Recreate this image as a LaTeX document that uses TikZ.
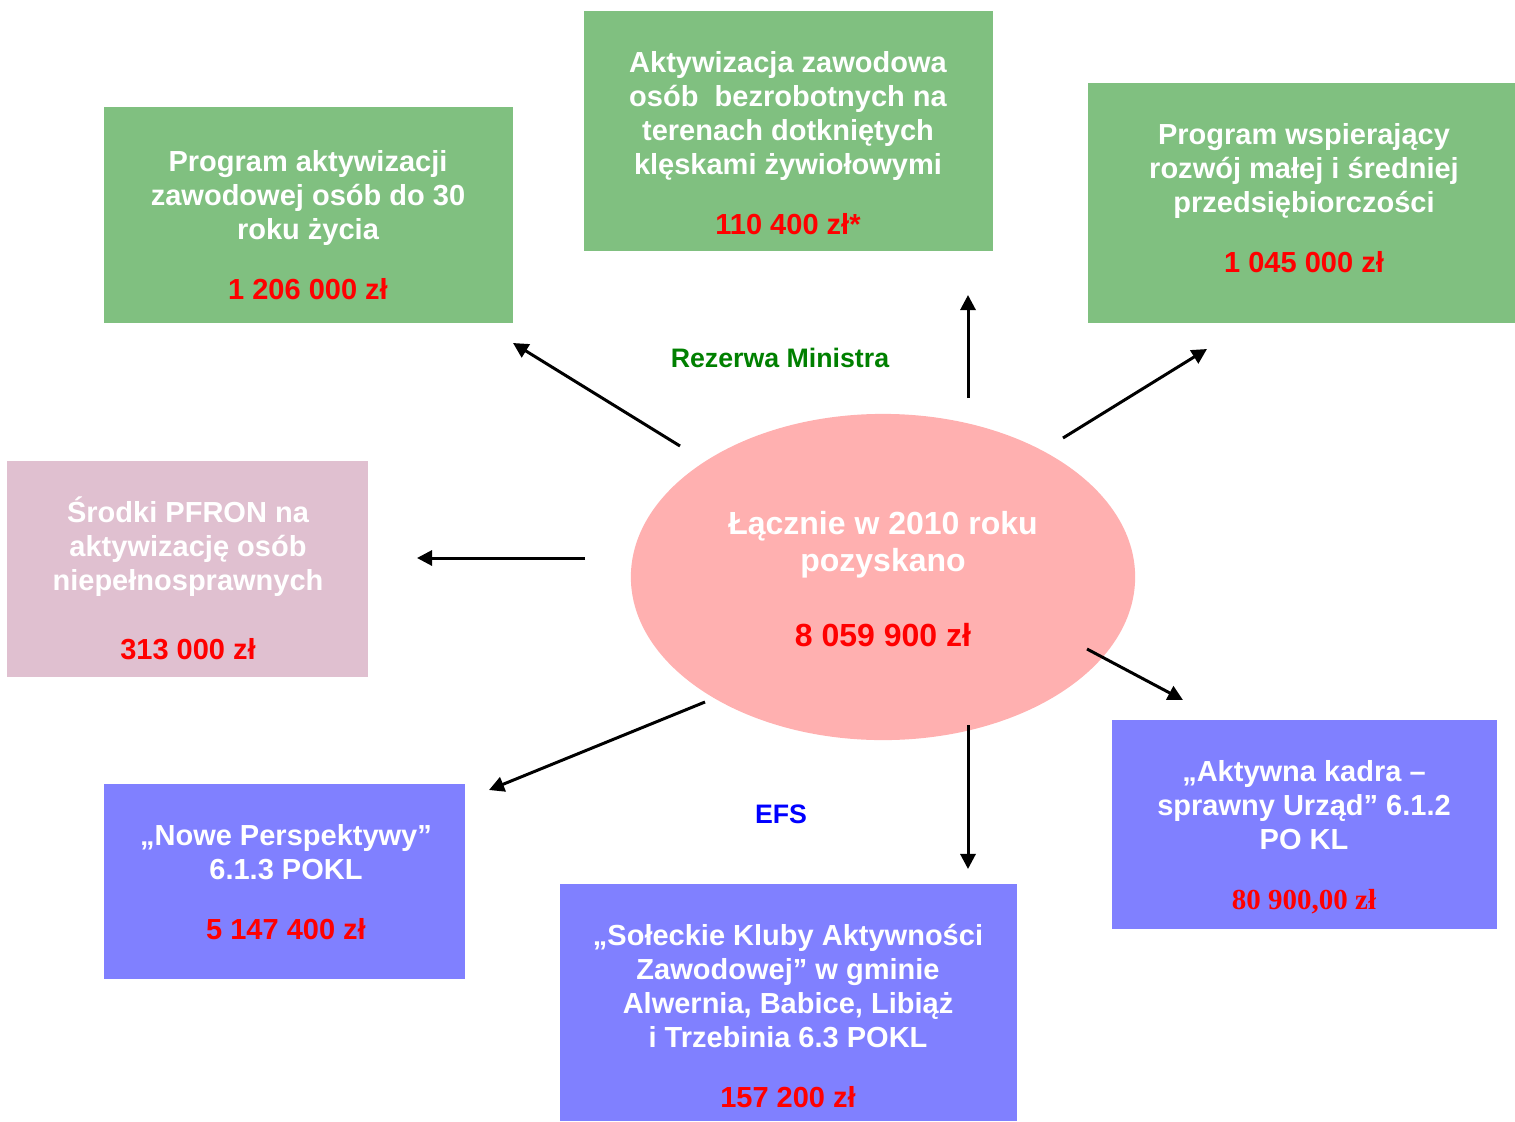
\documentclass[tikz,border=0pt]{standalone}
\usepackage{fontspec}
\setmainfont{Liberation Sans}
\newfontfamily\serifsum{Liberation Serif}
\usetikzlibrary{arrows.meta,shapes.geometric}

\definecolor{boxgreen}{HTML}{80C080}
\definecolor{boxpink}{HTML}{E0C0D0}
\definecolor{ovalpink}{HTML}{FFB0B0}
\definecolor{boxblue}{HTML}{8080FF}
\definecolor{sumred}{HTML}{FF0000}
\definecolor{labgreen}{HTML}{008000}
\definecolor{labblue}{HTML}{0000FF}

\tikzset{
 panel/.style={rectangle, draw=none, inner sep=0pt},
 greenpanel/.style={panel, fill=boxgreen},
 bluepanel/.style={panel, fill=boxblue},
 pinkpanel/.style={panel, fill=boxpink},
 oval/.style={ellipse, fill=ovalpink, inner sep=0pt,
   minimum width=5.04cm, minimum height=3.26cm},
 txt/.style={align=center, text=white, inner sep=0pt,
   font=\bfseries\fontsize{8.25}{9.67}\selectfont},
 ovaltxt/.style={txt, font=\bfseries\fontsize{9.1}{10.6}\selectfont},
 grouplab/.style={inner sep=0pt, font=\bfseries\fontsize{7.6}{9}\selectfont},
 flow/.style={-{Triangle[length=4.3pt,width=4.3pt]}, line width=0.85pt, black}
}
\newcommand{\kwota}[1]{\textcolor{sumred}{#1}}

\begin{document}
\begin{tikzpicture}[x=0.01cm,y=-0.01cm]
 \useasboundingbox (0,0) rectangle (1515,1121);

 % boxes
 \node[greenpanel, minimum width=4.09cm, minimum height=2.16cm] (b1) at (308.5,215) {};
 \node[greenpanel, minimum width=4.09cm, minimum height=2.40cm] (b2) at (788.5,131) {};
 \node[greenpanel, minimum width=4.27cm, minimum height=2.40cm] (b3) at (1301.5,203) {};
 \node[pinkpanel, minimum width=3.61cm, minimum height=2.16cm] (b4) at (187.5,569) {};
 \node[oval] (sum) at (883,577) {};
 \node[bluepanel, minimum width=3.61cm, minimum height=1.95cm] (b5) at (284.5,881.5) {};
 \node[bluepanel, minimum width=4.57cm, minimum height=2.37cm] (b6) at (788.5,1002.5) {};
 \node[bluepanel, minimum width=3.85cm, minimum height=2.09cm] (b7) at (1304.5,824.5) {};

 % texts
 \node[txt] (t1) at (308,225.5) {Program aktywizacji\\zawodowej osób do 30\\roku życia\\[7.4pt]\kwota{1 206 000 zł}};
 \node[txt] (t2) at (788,143.5) {Aktywizacja zawodowa\\osób\ \ bezrobotnych na\\terenach dotkniętych\\klęskami żywiołowymi\\[7.4pt]\kwota{110 400 zł*}};
 \node[txt] (t3) at (1304,198.5) {Program wspierający\\rozwój małej i średniej\\przedsiębiorczości\\[7.4pt]\kwota{1 045 000 zł}};
 \node[txt] (t4) at (188,578) {Środki PFRON na\\aktywizację osób\\niepełnosprawnych\\[10pt]\kwota{313 000 zł}};
 \node[ovaltxt] (tsum) at (883,579) {Łącznie w 2010 roku\\pozyskano\\[10.5pt]\kwota{8 059 900 zł}};
 \node[txt] (t5) at (286,882.5) {„Nowe Perspektywy”\\6.1.3 POKL\\[7.4pt]\kwota{5 147 400 zł}};
 \node[txt] (t6) at (788,1016) {„Sołeckie Kluby Aktywności\\Zawodowej” w gminie\\Alwernia, Babice, Libiąż\\i Trzebinia 6.3 POKL\\[7.4pt]\kwota{157 200 zł}};
 \node[txt] (t7) at (1304,837.5) {„Aktywna kadra –\\sprawny Urząd” 6.1.2\\PO KL\\[7.4pt]\kwota{\serifsum 80 900,00 zł}};

 \node[grouplab, text=labgreen] (rm) at (780,358) {Rezerwa Ministra};
 \node[grouplab, text=labblue] (efs) at (781,814) {EFS};

 % arrow ends
 \coordinate (s1) at (680,446);  \coordinate (e1) at (513,343);
 \coordinate (s2) at (968,398);  \coordinate (e2) at (968,295);
 \coordinate (s3) at (1063,438); \coordinate (e3) at (1207,349);
 \coordinate (s4) at (585,558);  \coordinate (e4) at (417,558);
 \coordinate (s5) at (705,702);  \coordinate (e5) at (489,790);
 \coordinate (s6) at (968,725);  \coordinate (e6) at (968,869);
 \coordinate (s7) at (1087,649); \coordinate (e7) at (1183,700);

 \path [flow] (s1) edge (e1);
 \path [flow] (s2) edge (e2);
 \path [flow] (s3) edge (e3);
 \path [flow] (s4) edge (e4);
 \path [flow] (s5) edge (e5);
 \path [flow] (s6) edge (e6);
 \path [flow] (s7) edge (e7);
\end{tikzpicture}
\end{document}
